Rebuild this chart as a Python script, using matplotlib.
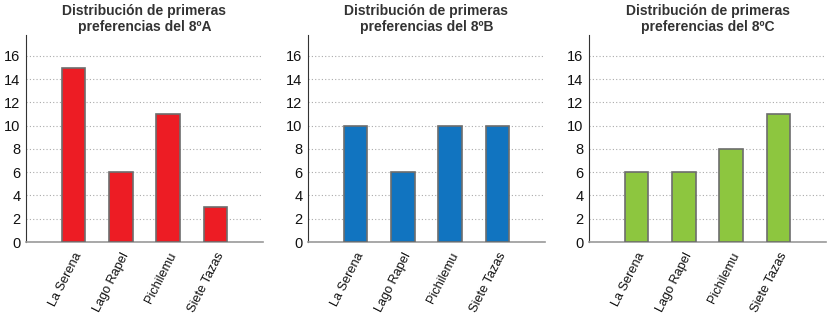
import matplotlib
matplotlib.use("Agg")
from matplotlib import pyplot as plt
import numpy as np

plt.rcParams['font.family'] = ['Liberation Sans', 'DejaVu Sans']

places = ['La Serena', 'Lago Rapel', 'Pichilemu', 'Siete Tazas']
course_a = [15, 6, 11, 3]
course_b = [10, 6, 10, 10]
course_c = [6, 6, 8, 11]
titles = ['Distribución de primeras\npreferencias del 8ºA',
          'Distribución de primeras\npreferencias del 8ºB',
          'Distribución de primeras\npreferencias del 8ºC']
colors = ['#ED1C24', '#1174C0', '#8DC63F']
yticks = [0, 2, 4, 6, 8, 10, 12, 14, 16]

fig = plt.figure(figsize=(8.27, 3.15), dpi=100)
lefts = [26, 308, 589]
x = np.arange(len(places))

for left, vals, title, col in zip(lefts, [course_a, course_b, course_c], titles, colors):
    ax = fig.add_axes([left / 827, 1 - 242 / 315, 237 / 827, 207 / 315])
    ax.bar(x, vals, width=0.5, color=col, edgecolor='#6d6d6d', linewidth=1.2, zorder=3)
    ax.set_xlim(-1, 4)
    ax.set_ylim(0, 17.8)
    ax.set_yticks(yticks)
    ax.set_yticklabels([str(t) for t in yticks], fontsize=10.5, color='#111111')
    ax.set_xticks(x)
    ax.set_xticklabels(places, rotation=63, ha='right', rotation_mode='anchor',
                       fontsize=9.2, color='#111111')
    ax.tick_params(length=0, pad=6)
    ax.tick_params(axis='y', pad=4)
    ax.grid(axis='y', linestyle=(0, (1, 2)), color='#aaaaaa', linewidth=0.8, zorder=0)
    ax.spines['top'].set_visible(False)
    ax.spines['right'].set_visible(False)
    ax.spines['left'].set_color('#333333')
    ax.spines['bottom'].set_color('#999999')
    ax.spines['bottom'].set_linewidth(1.2)
    ax.set_title(title, fontsize=10, fontweight='bold', color='#333333', pad=3, linespacing=1.15)

plt.savefig("out.png", dpi=100)
